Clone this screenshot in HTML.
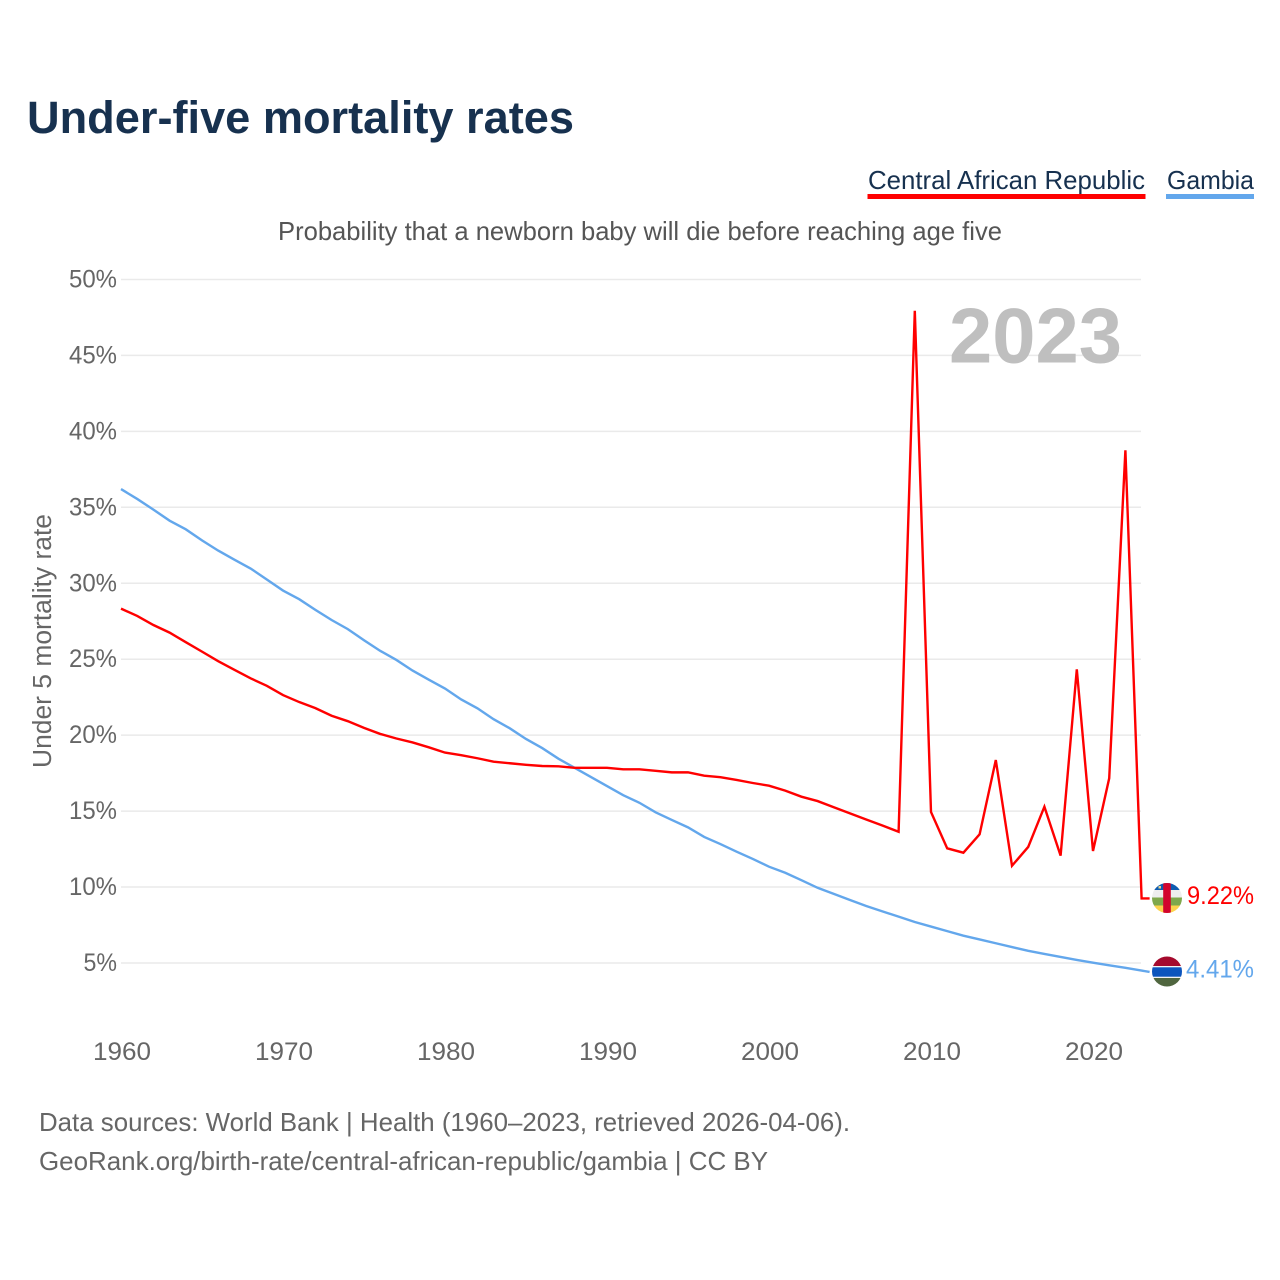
<!DOCTYPE html>
<html lang="en">
<head>
<meta charset="utf-8">
<title>Under-five mortality rates</title>
<style>
html,body{margin:0;padding:0;background:#fff;}
svg{display:block;}
text{font-family:"Liberation Sans",sans-serif;}
</style>
</head>
<body>
<svg id="chart" xmlns="http://www.w3.org/2000/svg" width="1280" height="1280" viewBox="0 0 1280 1280">
  <rect x="0" y="0" width="1280" height="1280" fill="#fff"/>
  <text x="27" y="133" font-size="45" font-weight="700" fill="#17314f" textLength="547" lengthAdjust="spacingAndGlyphs">Under-five mortality rates</text>

  <g>
    <g>
      <text x="868" y="189" font-size="26" fill="#17314f" textLength="277" lengthAdjust="spacingAndGlyphs">Central African Republic</text>
      <rect x="867.5" y="194" width="278" height="5" fill="#ff0000"/>
    </g>
    <g>
      <text x="1167" y="189" font-size="26" fill="#17314f" textLength="87" lengthAdjust="spacingAndGlyphs">Gambia</text>
      <rect x="1166" y="194" width="88" height="5" fill="#63a7ec"/>
    </g>
  </g>

  <text x="278" y="240" font-size="26" fill="#555" textLength="724" lengthAdjust="spacingAndGlyphs">Probability that a newborn baby will die before reaching age five</text>

  <g id="grid"></g>
  <g id="yticks"></g>
  <g id="xticks"></g>

  <text transform="translate(51 768) rotate(-90)" x="0" y="0" font-size="25.5" fill="#666" textLength="254" lengthAdjust="spacingAndGlyphs">Under 5 mortality rate</text>

  <text x="949" y="362.5" font-size="78" font-weight="700" fill="#bfbfbf" textLength="173" lengthAdjust="spacingAndGlyphs">2023</text>

  <g id="series"></g>

  <defs>
    <clipPath id="clip-car"><circle cx="1167" cy="898" r="15"/></clipPath>
    <clipPath id="clip-gambia"><circle cx="1167" cy="971.5" r="15"/></clipPath>
  </defs>

  <g clip-path="url(#clip-car)">
    <rect x="1150" y="882" width="34" height="8" fill="#0f5cb0"/>
    <rect x="1150" y="890" width="34" height="7.5" fill="#eeeeee"/>
    <rect x="1150" y="897.5" width="34" height="8" fill="#7fa84c"/>
    <rect x="1150" y="905.5" width="34" height="9" fill="#fcd34d"/>
    <rect x="1163.2" y="882" width="7.6" height="32" fill="#d2042d"/>
    <rect x="1158.5" y="886" width="2.5" height="2.5" fill="#e8d58a"/>
  </g>
  <g clip-path="url(#clip-gambia)">
    <rect x="1150" y="956" width="34" height="10" fill="#a50a2d"/>
    <rect x="1150" y="966" width="34" height="12" fill="#f3f3f3"/>
    <rect x="1150" y="967.3" width="34" height="9.4" fill="#0c55bd"/>
    <rect x="1150" y="978" width="34" height="10" fill="#50663f"/>
  </g>

  <text x="1187" y="904" font-size="25" fill="#ff0000" textLength="67" lengthAdjust="spacingAndGlyphs">9.22%</text>
  <text x="1186" y="977.5" font-size="25" fill="#63a7ec" textLength="68" lengthAdjust="spacingAndGlyphs">4.41%</text>

  <text x="39" y="1131" font-size="26" fill="#666" textLength="811" lengthAdjust="spacingAndGlyphs">Data sources: World Bank | Health (1960–2023, retrieved 2026-04-06).</text>
  <text x="39" y="1170" font-size="26" fill="#666" textLength="729" lengthAdjust="spacingAndGlyphs">GeoRank.org/birth-rate/central-african-republic/gambia | CC BY</text>
</svg>

<script>
const yTickValues = [5, 10, 15, 20, 25, 30, 35, 40, 45, 50];
const xTickYears = [1960, 1970, 1980, 1990, 2000, 2010, 2020];
const firstYear = 1960;
const carValues = [
  28.33, 27.85, 27.25, 26.75, 26.12, 25.5, 24.87, 24.3, 23.74, 23.25,
  22.64, 22.18, 21.78, 21.28, 20.92, 20.48, 20.08, 19.78, 19.52, 19.2,
  18.85, 18.68, 18.48, 18.25, 18.15, 18.05, 17.97, 17.95, 17.85, 17.85,
  17.85, 17.75, 17.75, 17.65, 17.55, 17.55, 17.33, 17.23, 17.05, 16.85,
  16.67, 16.35, 15.95, 15.66, 15.25, 14.85, 14.45, 14.05, 13.64, 47.94,
  14.94, 12.55, 12.26, 13.47, 18.36, 11.4, 12.64, 15.29, 12.07, 24.33,
  12.37, 17.16, 38.75, 9.25
];
const gambiaValues = [
  36.2, 35.55, 34.85, 34.12, 33.55, 32.82, 32.15, 31.55, 30.97, 30.25,
  29.52, 28.95, 28.25, 27.58, 26.98, 26.25, 25.55, 24.95, 24.25, 23.65,
  23.07, 22.35, 21.77, 21.05, 20.45, 19.75, 19.15, 18.45, 17.85, 17.25,
  16.65, 16.05, 15.55, 14.92, 14.42, 13.93, 13.3, 12.83, 12.33, 11.85,
  11.34, 10.94, 10.45, 9.95, 9.55, 9.15, 8.75, 8.4, 8.05, 7.7,
  7.4, 7.1, 6.8, 6.55, 6.3, 6.05, 5.8, 5.6, 5.4, 5.2,
  5.02, 4.85, 4.68, 4.5
];
const carEndValue = 9.25;
const gambiaEndValue = 4.41;

const SVG_NS = 'http://www.w3.org/2000/svg';
function xScale(year) { return 121 + (year - 1960) * 16.2; }
function yScale(value) { return 1038.95 - value * 15.19; }

const gridGroup = document.getElementById('grid');
const yTickGroup = document.getElementById('yticks');
const xTickGroup = document.getElementById('xticks');
const seriesGroup = document.getElementById('series');

yTickValues.forEach(function (v) {
  const y = yScale(v);
  const line = document.createElementNS(SVG_NS, 'line');
  
  
  line.setAttribute('x1', 121);
  line.setAttribute('x2', 1141);
  line.setAttribute('y1', y);
  line.setAttribute('y2', y);
  line.setAttribute('stroke', '#eaeaea');
  line.setAttribute('stroke-width', 1.5);
  gridGroup.appendChild(line);

  const label = v + '%';
  const t = document.createElementNS(SVG_NS, 'text');
  
  
  t.setAttribute('x', 117);
  t.setAttribute('y', yScale(v) + 8);
  t.setAttribute('text-anchor', 'end');
  t.setAttribute('font-size', 25);
  t.setAttribute('fill', '#666');
  t.setAttribute('textLength', (label.length - 1) * 14.5 + 19);
  t.setAttribute('lengthAdjust', 'spacingAndGlyphs');
  t.textContent = label;
  yTickGroup.appendChild(t);
});

xTickYears.forEach(function (yr) {
  const t = document.createElementNS(SVG_NS, 'text');
  
  
  t.setAttribute('x', xScale(yr) + 1);
  t.setAttribute('y', 1060);
  t.setAttribute('text-anchor', 'middle');
  t.setAttribute('font-size', 25);
  t.setAttribute('fill', '#666');
  t.setAttribute('textLength', 58);
  t.setAttribute('lengthAdjust', 'spacingAndGlyphs');
  t.textContent = String(yr);
  xTickGroup.appendChild(t);
});

function seriesPath(values, endValue) {
  let d = '';
  values.forEach(function (v, i) {
    d += (i === 0 ? 'M' : 'L') + xScale(firstYear + i).toFixed(2) + ' ' + yScale(v).toFixed(2) + ' ';
  });
  d += 'L' + (xScale(firstYear + values.length - 1) + 8).toFixed(2) + ' ' + yScale(endValue).toFixed(2);
  return d;
}

const gambiaLine = document.createElementNS(SVG_NS, 'path');


gambiaLine.setAttribute('d', seriesPath(gambiaValues, gambiaEndValue));
gambiaLine.setAttribute('fill', 'none');
gambiaLine.setAttribute('stroke', '#63a7ec');
gambiaLine.setAttribute('stroke-width', 2.4);
gambiaLine.setAttribute('stroke-linejoin', 'miter');
gambiaLine.setAttribute('stroke-miterlimit', 3);
seriesGroup.appendChild(gambiaLine);

const carLine = document.createElementNS(SVG_NS, 'path');


carLine.setAttribute('d', seriesPath(carValues, carEndValue));
carLine.setAttribute('fill', 'none');
carLine.setAttribute('stroke', '#ff0000');
carLine.setAttribute('stroke-width', 2.4);
carLine.setAttribute('stroke-linejoin', 'miter');
carLine.setAttribute('stroke-miterlimit', 3);
seriesGroup.appendChild(carLine);
</script>
</body>
</html>
